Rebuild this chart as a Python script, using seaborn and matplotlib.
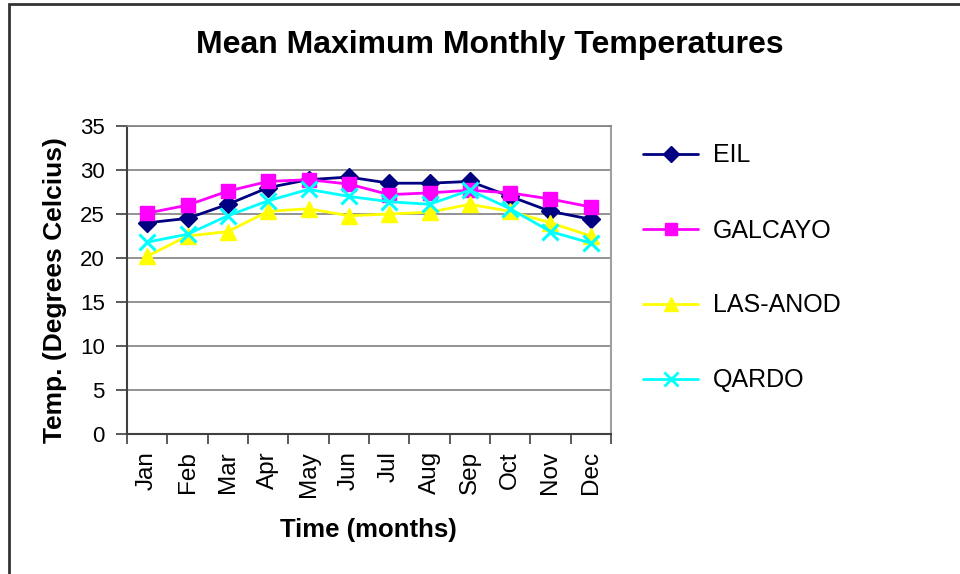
import matplotlib
matplotlib.use("Agg")
import matplotlib.pyplot as plt
from matplotlib.patches import Rectangle
from matplotlib.lines import Line2D
import seaborn as sns
import pandas as pd

months = ["Jan", "Feb", "Mar", "Apr", "May", "Jun", "Jul", "Aug", "Sep", "Oct", "Nov", "Dec"]
eil = [24.0, 24.5, 26.1, 28.0, 28.9, 29.2, 28.5, 28.5, 28.7, 27.0, 25.3, 24.4]
galcayo = [25.1, 26.0, 27.6, 28.7, 28.9, 28.4, 27.2, 27.4, 27.7, 27.4, 26.7, 25.8]
las_anod = [20.2, 22.5, 23.0, 25.3, 25.6, 24.8, 25.0, 25.2, 26.1, 25.3, 24.0, 22.5]
qardo = [21.8, 22.7, 24.8, 26.5, 27.8, 27.0, 26.4, 26.1, 27.7, 25.6, 23.0, 21.7]
series_names = ["EIL", "GALCAYO", "LAS-ANOD", "QARDO"]
yticks = [0, 5, 10, 15, 20, 25, 30, 35]

sns.set_theme(style="white")
plt.rcParams["font.family"] = ["Liberation Sans", "DejaVu Sans"]
plt.rcParams["text.color"] = "black"
plt.rcParams["axes.labelcolor"] = "black"
plt.rcParams["xtick.color"] = "black"
plt.rcParams["ytick.color"] = "black"

rows = []
for name, vals in zip(series_names, [eil, galcayo, las_anod, qardo]):
    for i, v in enumerate(vals):
        rows.append({"idx": i, "month": months[i], "temp": v, "station": name})
df = pd.DataFrame(rows)

colors = {"EIL": "#000080", "GALCAYO": "#FF00FF", "LAS-ANOD": "#FFFF00", "QARDO": "#00FFFF"}
markers = {"EIL": "D", "GALCAYO": "s", "LAS-ANOD": "^", "QARDO": "x"}
msizes = {"EIL": 9, "GALCAYO": 9.5, "LAS-ANOD": 11, "QARDO": 11}

fig = plt.figure(figsize=(9.6, 5.74), dpi=100)
fig.patch.set_facecolor("white")
ax = fig.add_axes([127 / 960, 1 - 434 / 574, (611 - 127) / 960, (434 - 126) / 574])

for name in series_names:
    sub = df[df["station"] == name]
    sns.lineplot(data=sub, x="idx", y="temp", ax=ax, color=colors[name], marker=markers[name],
                 markersize=msizes[name], markeredgecolor=colors[name],
                 markeredgewidth=2.2 if name == "QARDO" else 1, linewidth=2, legend=False)

ax.set_xlim(-0.5, 11.5)
ax.set_ylim(0, 35)
ax.set_yticks(yticks)
ax.set_yticklabels([str(t) for t in yticks], fontsize=16)
ax.set_xticks(range(12))
ax.set_xticklabels(months, rotation=90, fontsize=17.5)
ax.set_xticks([i - 0.5 for i in range(13)], minor=True)
ax.tick_params(axis="x", which="major", length=0, pad=12.5)
ax.tick_params(axis="x", which="minor", length=7, width=1.2, color="#404040", direction="out")
ax.tick_params(axis="y", which="major", length=8, width=1.2, color="#404040", direction="out", pad=8)
ax.xaxis.set_ticks_position("bottom")
ax.yaxis.set_ticks_position("left")
for t in yticks[1:]:
    ax.axhline(t, color="#808080", linewidth=1.2, zorder=0)
for s in ["left", "bottom"]:
    ax.spines[s].set_color("#404040")
    ax.spines[s].set_linewidth(1.5)
ax.spines["right"].set_color("#a0a0a0")
ax.spines["right"].set_linewidth(1.5)
ax.spines["top"].set_color("#808080")
ax.spines["top"].set_linewidth(1.2)

ax.set_xlabel("Time (months)", fontsize=18.5, fontweight="bold", va="center")
ax.xaxis.set_label_coords((368.5 - 127) / 484, (434 - 530) / 308)
ax.set_ylabel("Temp. (Degrees Celcius)", fontsize=19, fontweight="bold", va="center")
ax.yaxis.set_label_coords((55 - 127) / 484, (434 - 290) / 308)

fig.text(490 / 960, 1 - 45 / 574, "Mean Maximum Monthly Temperatures", ha="center", va="center",
         fontsize=23, fontweight="bold")

handles = [Line2D([0], [0], color=colors[n], marker=markers[n], markersize=msizes[n] - 1,
                  markeredgecolor=colors[n], markeredgewidth=2 if n == "QARDO" else 1, linewidth=2)
           for n in series_names]
fig.legend(handles, series_names, loc="upper left", bbox_to_anchor=(633 / 960, 1 - 133.5 / 574),
           frameon=False, fontsize=18, handlelength=2.2, handletextpad=0.6, labelspacing=2.04,
           borderaxespad=0)

fig.add_artist(Rectangle((9 / 960, -0.1), 1.2, 1.1 - 4 / 574, transform=fig.transFigure,
                         fill=False, edgecolor="#333333", linewidth=2))

fig.savefig("out.png", dpi=100, facecolor="white")
